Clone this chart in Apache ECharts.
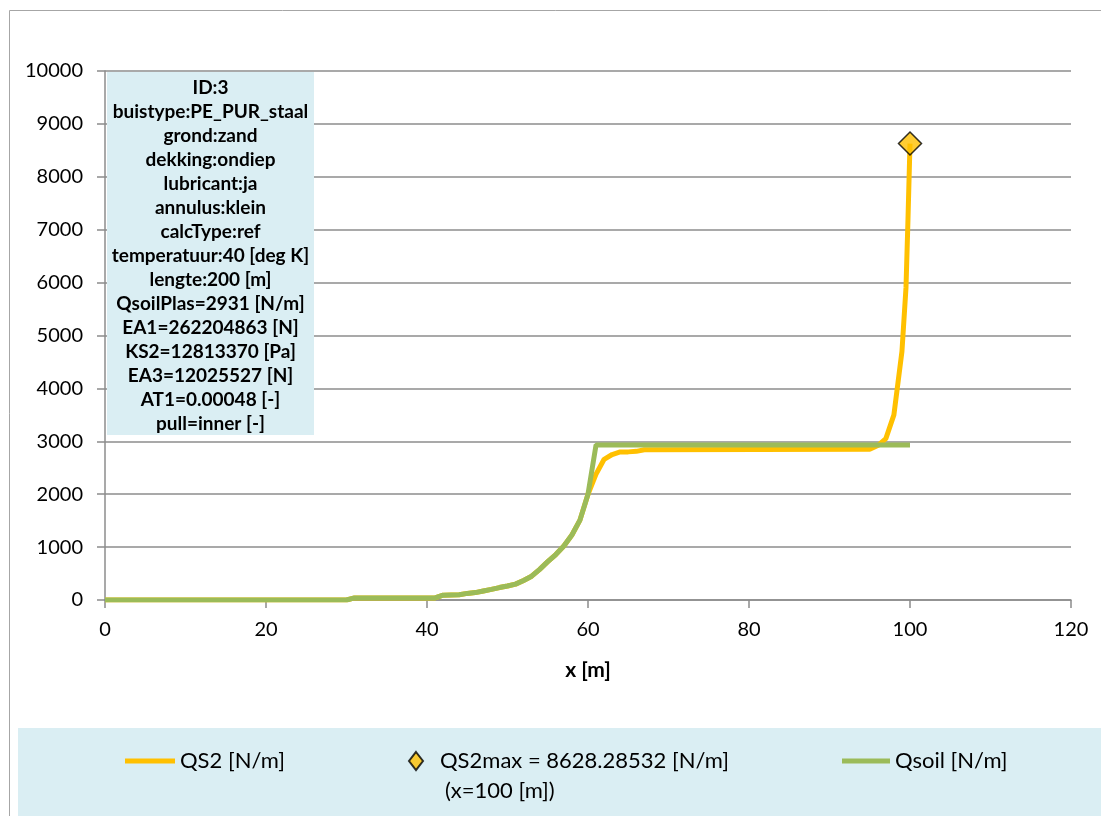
<!DOCTYPE html>
<html>
<head>
<meta charset="utf-8">
<script src="https://cdn.jsdelivr.net/npm/echarts@6/dist/echarts.min.js"></script>
<style>
html,body{margin:0;padding:0;background:#fff;}
#chart{width:1101px;height:816px;}
</style>
</head>
<body>
<div id="chart"></div>
<script>
// x positions [m]
const xVals = [0, 30, 31, 41, 42, 44, 45, 46, 47, 48, 49, 50, 51, 52, 53, 54, 55, 56, 57, 58, 59, 60, 61, 62, 63, 64, 65, 66, 67, 95, 96, 97, 98, 98.5, 99, 99.5, 99.75, 100];
// QS2 [N/m]
const qs2 = [0, 0, 40, 40, 90, 100, 125, 140, 170, 200, 235, 265, 300, 370, 450, 580, 725, 860, 1020, 1230, 1510, 2000, 2380, 2660, 2750, 2800, 2800, 2810, 2840, 2850, 2920, 3050, 3500, 4100, 4700, 5900, 7200, 8628.28532];
// Qsoil [N/m]
const qsoil = [0, 0, 40, 40, 90, 100, 125, 140, 170, 200, 235, 265, 300, 370, 450, 580, 725, 860, 1020, 1230, 1510, 2000, 2931, 2931, 2931, 2931, 2931, 2931, 2931, 2931, 2931, 2931, 2931, 2931, 2931, 2931, 2931, 2931];
// maximum point
const qs2MaxX = 100;
const qs2MaxY = 8628.28532;
// axis ticks
const xTicks = {min: 0, max: 120, interval: 20};
const yTicks = {min: 0, max: 10000, interval: 1000};
// info box lines
const infoLines = [
  'ID:3',
  'buistype:PE_PUR_staal',
  'grond:zand',
  'dekking:ondiep',
  'lubricant:ja',
  'annulus:klein',
  'calcType:ref',
  'temperatuur:40 [deg K]',
  'lengte:200 [m]',
  'QsoilPlas=2931 [N/m]',
  'EA1=262204863 [N]',
  'KS2=12813370 [Pa]',
  'EA3=12025527 [N]',
  'AT1=0.00048 [-]',
  'pull=inner [-]'
];
const names = ['QS2 [N/m]', 'QS2max = 8628.28532 [N/m]', 'Qsoil [N/m]'];

const FONT = 'Lato, "Open Sans", sans-serif';
const YEL = '#FFC000', GRN = '#9BBB59', BLUE = '#DAEEF3', GRAY = '#8c8c8c';

const chart = echarts.init(document.getElementById('chart'), null, {renderer: 'canvas'});
const legendText = {fontFamily: FONT, fontSize: 22, color: '#000'};

chart.setOption({
  animation: false,
  backgroundColor: '#fff',
  grid: {left: 105, right: 30, top: 71, bottom: 216, containLabel: false},
  xAxis: {
    type: 'value', min: xTicks.min, max: xTicks.max, interval: xTicks.interval,
    name: 'x [m]', nameLocation: 'middle', nameGap: 60,
    nameTextStyle: {fontFamily: FONT, fontSize: 21, fontWeight: 'bold', color: '#000'},
    axisLine: {show: true, lineStyle: {color: GRAY, width: 1.5}},
    axisTick: {show: true, inside: false, length: 8, lineStyle: {color: GRAY, width: 1.5}},
    axisLabel: {fontFamily: FONT, fontSize: 20, color: '#000', margin: 20, formatter: v => String(v)},
    splitLine: {show: false}
  },
  yAxis: {
    type: 'value', min: yTicks.min, max: yTicks.max, interval: yTicks.interval,
    axisLine: {show: true, lineStyle: {color: GRAY, width: 1.5}},
    axisTick: {show: true, inside: false, length: 8, lineStyle: {color: GRAY, width: 1.5}},
    axisLabel: {fontFamily: FONT, fontSize: 20, color: '#000', margin: 22, formatter: v => String(v)},
    splitLine: {show: true, lineStyle: {color: GRAY, width: 1.5}}
  },
  legend: [
    {data: [{name: names[0], icon: 'rect'}], left: 125, top: 750, padding: 0, itemWidth: 50, itemHeight: 5, textStyle: legendText, selectedMode: false},
    {data: [{name: names[1], icon: 'diamond'}], left: 408, top: 750, padding: 0, itemWidth: 14, itemHeight: 18, textStyle: Object.assign({padding: [0, 0, 0, 12]}, legendText), selectedMode: false},
    {data: [{name: names[2], icon: 'rect'}], left: 842, top: 750, padding: 0, itemWidth: 48, itemHeight: 5, textStyle: legendText, selectedMode: false}
  ],
  graphic: [
    {type: 'rect', shape: {x: 9.5, y: 10.5, width: 1200, height: 900}, style: {fill: 'none', stroke: '#a6a6a6', lineWidth: 1}, silent: true, z: -1},
    {type: 'rect', shape: {x: 18, y: 728, width: 1100, height: 100}, style: {fill: BLUE}, silent: true, z: -1},
    {type: 'text', x: 445, y: 780, style: {text: '(x=100 [m])', font: '22px ' + FONT, fill: '#000'}, silent: true, z: 100},
    {type: 'rect', shape: {x: 107, y: 72, width: 207, height: 363}, style: {fill: BLUE}, silent: true, z: 100},
    {type: 'text', x: 210.5, y: 76, style: {text: infoLines.join('\n'), font: 'bold 19px ' + FONT, fill: '#000', textAlign: 'center', lineHeight: 24}, silent: true, z: 101}
  ],
  series: [
    {
      name: names[0], type: 'line', data: xVals.map((x, i) => [x, qs2[i]]),
      showSymbol: false, symbol: 'none', color: YEL,
      lineStyle: {color: YEL, width: 5}, z: 3
    },
    {
      name: names[2], type: 'line', data: xVals.map((x, i) => [x, qsoil[i]]),
      showSymbol: false, symbol: 'none', color: GRN,
      lineStyle: {color: GRN, width: 5}, z: 4
    },
    {
      name: names[1], type: 'scatter', data: [[qs2MaxX, qs2MaxY]],
      symbol: 'diamond', symbolSize: [23, 23], color: YEL,
      itemStyle: {color: YEL, borderColor: '#000', borderWidth: 1.5}, z: 5
    }
  ]
});
</script>
</body>
</html>
